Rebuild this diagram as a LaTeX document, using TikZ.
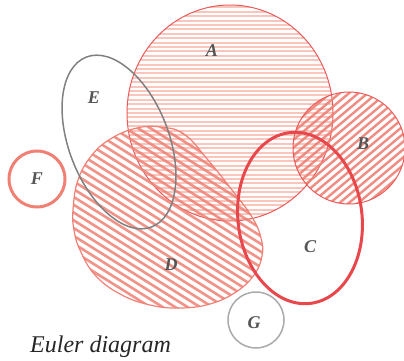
\documentclass[tikz,border=0pt]{standalone}
\usepackage{fontspec}
\setmainfont{Liberation Serif}
\definecolor{eulR}{RGB}{234,90,88}
\definecolor{eulC}{RGB}{232,72,76}
\definecolor{eulS}{RGB}{240,128,116}
\definecolor{eulP}{RGB}{249,197,189}
\definecolor{eulE}{RGB}{128,128,128}
\definecolor{eulG}{RGB}{170,170,170}
\definecolor{eulT}{RGB}{85,85,85}

\begin{document}
\begin{tikzpicture}[x=1pt,y=1pt,
  setlabel/.style={font=\fontsize{18}{18}\selectfont\bfseries\itshape,text=eulT,inner sep=0pt}]
\useasboundingbox (0,0) rectangle (404,360);
% A: horizontal stripes
\begin{scope}
  \clip (230,247) ellipse [x radius=103,y radius=108];
  \foreach \k in {-25,...,25}
    \draw[eulP,line width=2pt] (120,247+4.4*\k) -- ++(220,0);
\end{scope}
\draw[eulR,line width=1pt] (230,247) ellipse [x radius=103,y radius=108];
% B
\begin{scope}
  \clip (349,212) circle (56);
  \foreach \k in {-10,...,10}
    \draw[eulS,line width=2.4pt,opacity=.9,rotate around={40:(349,212)}] (280,212+6*\k) -- ++(140,0);
\end{scope}
\draw[eulR,line width=1pt] (349,212) circle (56);
% D: blob
\begin{scope}
  \clip plot[smooth cycle,tension=.7] coordinates {(73,150) (78,180) (92,205) (112,222) (137,232)
    (160,233) (184,226) (208,200) (232,170) (252,143) (261,122) (262,104) (254,85) (236,68)
    (210,56) (180,52) (150,55) (120,66) (95,85) (80,110) (74,130)};
  \foreach \k in {-18,...,18}
    \draw[eulS,line width=2.6pt,opacity=.85,rotate around={-32:(168,143)}] (40,143+6.6*\k) -- ++(260,0);
\end{scope}
\draw[eulS,line width=1.2pt]
  plot[smooth cycle,tension=.7] coordinates {(73,150) (78,180) (92,205) (112,222) (137,232)
    (160,233) (184,226) (208,200) (232,170) (252,143) (261,122) (262,104) (254,85) (236,68)
    (210,56) (180,52) (150,55) (120,66) (95,85) (80,110) (74,130)};
% E, C, F, G outlines
\draw[eulE,line width=1.5pt,rotate around={21:(119,218)}] (119,218) ellipse [x radius=50,y radius=91];
\draw[eulC,line width=3pt,rotate around={7:(300,142)}] (300,142) ellipse [x radius=62,y radius=86];
\draw[eulS,line width=3pt] (37,181) circle (28);
\draw[eulG,line width=1.5pt] (256,40) circle (28);
% labels
\node[setlabel] (lA) at (212,309) {A};
\node[setlabel] (lB) at (363,216) {B};
\node[setlabel] (lC) at (310,113) {C};
\node[setlabel] (lD) at (171,95) {D};
\node[setlabel] (lE) at (94,262) {E};
\node[setlabel] (lF) at (37,181) {F};
\node[setlabel] (lG) at (254,37) {G};
\node[font=\fontsize{24}{24}\selectfont\itshape,text=black!85,anchor=base west,inner sep=0pt]
  (title) at (30,8) {Euler diagram};
\end{tikzpicture}
\end{document}
